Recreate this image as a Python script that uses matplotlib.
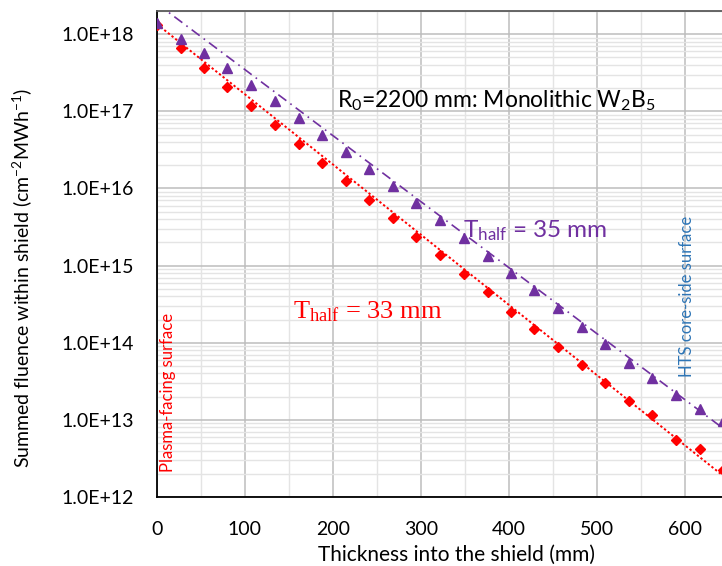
import numpy as np
import matplotlib
matplotlib.use('Agg')
import matplotlib.pyplot as plt
from matplotlib.ticker import LogLocator, MultipleLocator, FuncFormatter, NullFormatter

plt.rcParams['font.family'] = ['Lato', 'DejaVu Sans']
plt.rcParams['mathtext.fontset'] = 'custom'
plt.rcParams['mathtext.rm'] = 'Lato'
plt.rcParams['mathtext.it'] = 'Lato:italic'
plt.rcParams['mathtext.sf'] = 'Liberation Serif'

# ---------------- data ----------------
thickness_mm = [0, 27, 54, 80, 107, 134, 161, 188, 215, 241, 268, 295, 322,
                349, 376, 403, 429, 456, 483, 510, 537, 563, 590, 617, 644]

fluence_red = [1.32e18, 6.7e17, 3.66e17, 2.04e17, 1.16e17, 6.6e16, 3.76e16,
               2.15e16, 1.25e16, 7.1e15, 4.1e15, 2.37e15, 1.38e15, 7.9e14,
               4.5e14, 2.53e14, 1.50e14, 8.8e13, 5.2e13, 2.99e13, 1.75e13,
               1.16e13, 5.5e12, 4.25e12, 2.25e12]

fluence_purple = [1.38e18, 8.8e17, 5.7e17, 3.6e17, 2.2e17, 1.37e17, 8.3e16,
                  5.0e16, 3.0e16, 1.78e16, 1.07e16, 6.4e15, 3.86e15, 2.30e15,
                  1.34e15, 8.1e14, 4.9e14, 2.8e14, 1.62e14, 9.6e13, 5.4e13,
                  3.5e13, 2.07e13, 1.39e13, 9.8e12]

# exponential trend lines: F(x) = A * 2^(-x / T_half)
red_trend_A = 1.35e18
red_trend_thalf = 33.1
purple_trend_A = 2.49e18
purple_trend_thalf = 35.2

RED = '#FF0000'
PURPLE = '#7030A0'
BLUE = '#2E75B6'

fig = plt.figure(figsize=(7.22, 5.66), dpi=100)
W, H = 722, 566
left_px, top_px, bottom_px = 157, 11, 497
xmax = 650
px_per_mm = 0.8793
ax = fig.add_axes([left_px / W, 1 - bottom_px / H,
                   xmax * px_per_mm / W, (bottom_px - top_px) / H])

xs = np.linspace(0, xmax, 400)
ax.plot(xs, red_trend_A * 2 ** (-xs / red_trend_thalf), color=RED,
        lw=1.4, linestyle=(0, (1.2, 1.2)), zorder=3)
ax.plot(xs, purple_trend_A * 2 ** (-xs / purple_trend_thalf), color=PURPLE,
        lw=1.2, linestyle=(0, (6, 3, 1, 3)), zorder=3)

ax.plot(thickness_mm, fluence_red, linestyle='none', marker='D',
        markersize=5, color=RED, zorder=4)
ax.plot(thickness_mm, fluence_purple, linestyle='none', marker='^',
        markersize=6.5, color=PURPLE, zorder=5)

ax.set_yscale('log')
ax.set_xlim(0, xmax)
ax.set_ylim(1e12, 2e18)
ax.xaxis.set_major_locator(MultipleLocator(100))
ax.xaxis.set_minor_locator(MultipleLocator(50))
ax.yaxis.set_major_locator(LogLocator(base=10, numticks=20))
ax.yaxis.set_minor_locator(LogLocator(base=10, subs=np.arange(2, 10), numticks=20))
ax.yaxis.set_minor_formatter(NullFormatter())
ax.yaxis.set_major_formatter(FuncFormatter(lambda v, p: f"{v:.1E}"))
ax.xaxis.set_minor_formatter(NullFormatter())

ax.grid(which='major', color='#BDBDBD', lw=1.1, zorder=0)
ax.grid(which='minor', color='#E4E4E4', lw=1.0, zorder=0)
ax.set_axisbelow(True)

ax.tick_params(which='both', length=0)
ax.tick_params(axis='y', labelsize=14, pad=16.5)
ax.tick_params(axis='x', labelsize=14, pad=17)

for s in ['left', 'bottom']:
    ax.spines[s].set_color('black')
    ax.spines[s].set_linewidth(1.3)
ax.spines['top'].set_color('#595959')
ax.spines['top'].set_linewidth(1.3)
ax.spines['right'].set_visible(False)

fig.text(457 / W, 1 - 555 / H, 'Thickness into the shield (mm)',
         ha='center', va='center', fontsize=15)
fig.text(22 / W, 1 - 278 / H,
         r'Summed fluence within shield (cm$^{-2}$MWh$^{-1}$)',
         ha='center', va='center', rotation=90, fontsize=14)

ax.text(205, 1.14e17, r'R$_0$=2200 mm: Monolithic W$_2$B$_5$',
        fontsize=16.5, color='black', ha='left', va='baseline')
ax.text(348, 2.34e15, r'T$_{\mathrm{half}}$ = 35 mm', fontsize=17.5,
        color=PURPLE, ha='left', va='baseline')
ax.text(155, 2.07e14, r'T$_{\mathsf{half}}$ = 33 mm', fontsize=19,
        family='Liberation Serif', color=RED, ha='left', va='baseline')
ax.text(12.5, 2.3e13, 'Plasma-facing surface', rotation=90, fontsize=12,
        color=RED, ha='center', va='center')
ax.text(603, 4.0e14, 'HTS core-side surface', rotation=90, fontsize=12,
        color=BLUE, ha='center', va='center')

fig.savefig('out.png', dpi=100)
